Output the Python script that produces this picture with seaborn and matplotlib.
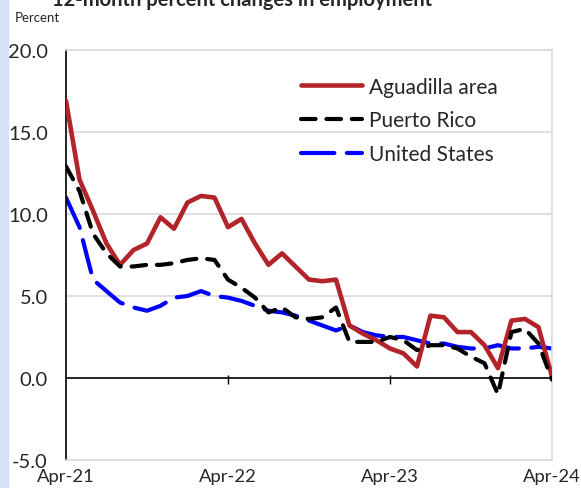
import numpy as np
import pandas as pd
import matplotlib
matplotlib.use("Agg")
import matplotlib.pyplot as plt
from matplotlib.patches import Rectangle
import seaborn as sns

# Data: 12-month percent change, Apr-2021 .. Apr-2024 (monthly)
months = pd.date_range("2021-04-01", "2024-04-01", freq="MS")
aguadilla = [16.9, 12.1, 10.2, 8.2, 6.9, 7.8, 8.2, 9.8, 9.1, 10.7, 11.1, 11.0,
             9.2, 9.7, 8.2, 6.9, 7.6, 6.8, 6.0, 5.9, 6.0, 3.2, 2.7, 2.3,
             1.8, 1.5, 0.7, 3.8, 3.7, 2.8, 2.8, 2.0, 0.6, 3.5, 3.6, 3.1, 0.1]
puerto_rico = [12.9, 11.4, 8.8, 7.6, 6.8, 6.8, 6.9, 6.9, 7.0, 7.2, 7.3, 7.2,
               6.0, 5.5, 4.9, 4.0, 4.3, 3.7, 3.6, 3.7, 4.3, 2.2, 2.2, 2.2,
               2.5, 2.3, 1.7, 2.0, 2.0, 1.8, 1.3, 0.9, -1.0, 2.8, 3.0, 2.1, -0.1]
united_states = [11.0, 9.2, 6.0, 5.3, 4.6, 4.3, 4.1, 4.4, 4.9, 5.0, 5.3, 5.0,
                 4.9, 4.7, 4.4, 4.1, 4.0, 3.8, 3.5, 3.2, 2.9, 3.2, 2.8, 2.6,
                 2.5, 2.5, 2.3, 2.1, 2.1, 1.9, 1.8, 1.8, 2.0, 1.8, 1.8, 1.9, 1.8]
tick_months = [0, 12, 24, 36]
tick_labels = ["Apr-21", "Apr-22", "Apr-23", "Apr-24"]
y_ticks = [-5, 0, 5, 10, 15, 20]

sns.set_style("white")
plt.rcParams["font.family"] = ["Lato", "DejaVu Sans"]

fig = plt.figure(figsize=(5.81, 4.89), dpi=100)
ax = fig.add_axes([0.1136, 0.0573, 0.8364, 0.8384])

# light blue strip on the left edge
fig.patches.append(Rectangle((0, 0), 8 / 581, 1, transform=fig.transFigure,
                             color="#d6e1f5", zorder=0))

x = np.arange(len(months))
sns.lineplot(x=x, y=aguadilla, ax=ax, color="#b3232a", lw=3.3,
             label="Aguadilla area", solid_capstyle="round", zorder=3)
sns.lineplot(x=x, y=puerto_rico, ax=ax, color="black", lw=3.0,
             linestyle=(0, (3.5, 2.6)), dash_capstyle="round",
             label="Puerto Rico", zorder=4)
sns.lineplot(x=x, y=united_states, ax=ax, color="#0000ff", lw=3.0,
             linestyle=(0, (8, 3.0)), dash_capstyle="round",
             label="United States", zorder=2)

ax.set_xlim(0, 36)
ax.set_ylim(-5, 20)
ax.set_yticks(y_ticks)
ax.set_yticklabels([f"{v:.1f}" for v in y_ticks], fontsize=14.5)
ax.set_xticks(tick_months)
ax.set_xticklabels(tick_labels, fontsize=13.3)
ax.tick_params(axis="both", length=0)
ax.tick_params(axis="y", pad=13)
ax.tick_params(axis="x", pad=6)

for v in y_ticks[1:]:
    if v != 0:
        ax.axhline(v, color="#d9d9d9", lw=1.2, zorder=0)
ax.axhline(0, color="black", lw=1.2, zorder=1)
ax.vlines(tick_months[1:3], -0.35, 0.2, color="black", lw=1.0, zorder=1)

for s in ["top", "right", "bottom"]:
    ax.spines[s].set_color("#d9d9d9")
    ax.spines[s].set_linewidth(1.2)
ax.spines["left"].set_color("black")
ax.spines["left"].set_linewidth(1.2)

ax.legend(loc="upper left", bbox_to_anchor=(0.467, 0.955), frameon=False,
          fontsize=15, handlelength=2.9, handletextpad=0.35, labelspacing=0.65,
          borderaxespad=0)

fig.text(0.026, 0.963, "Percent", fontsize=9.5, va="center", ha="left")
fig.text(0.416, 0.987, "12-month percent changes in employment", fontsize=14.5,
         fontweight="bold", ha="center", va="baseline")

fig.savefig("out.png", dpi=100)
